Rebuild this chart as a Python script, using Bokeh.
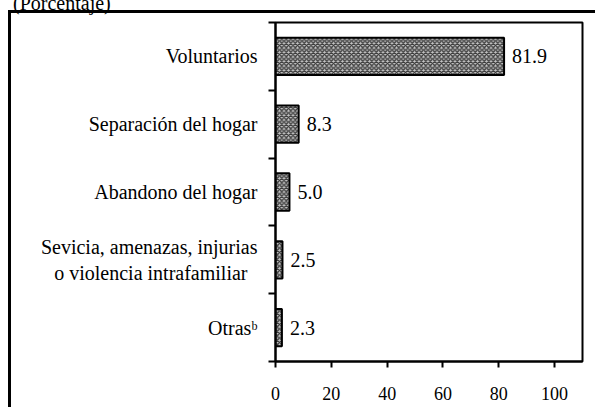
from bokeh.plotting import figure
from bokeh.models import FixedTicker, ColumnDataSource, Range1d, Div
from bokeh.layouts import column
from bokeh.core.properties import value
from bokeh.embed import file_html
from bokeh.resources import INLINE

categories = ["Voluntarios", "Separación del hogar", "Abandono del hogar",
              "Sevicia, amenazas, injurias\no violencia intrafamiliar\u00a0\u00a0", "Otras\u1d47"]
values = [81.9, 8.3, 5.0, 2.5, 2.3]
value_labels = ["81.9", "8.3", "5.0", "2.5", "2.3"]
x_ticks = [0, 20, 40, 60, 80, 100]
unit_text = "(Porcentaje)"

FONT = "Liberation Serif"
ypos = [i + 0.5 for i in range(len(categories))]
bounds = [float(i) for i in range(len(categories) + 1)]

src = ColumnDataSource(dict(y=ypos, v=values, lab=value_labels))

box_css = {
    "background-image": "linear-gradient(black, black), linear-gradient(black, black)",
    "background-size": "3px 100%, 100% 3px",
    "background-position": "8px 10px, 8px 10px",
    "background-repeat": "no-repeat",
}

p = figure(width=595, height=407, x_range=Range1d(0, 110),
           y_range=Range1d(len(categories), 0),
           output_backend="svg", toolbar_location=None,
           min_border_left=275, min_border_right=13,
           min_border_top=22, min_border_bottom=46,
           background_fill_color="white", border_fill_color=None,
           styles=box_css)

p.hbar(y="y", left=0, right="v", height=0.55, source=src,
       fill_color="#c4c4c4", hatch_pattern="diagonal_cross", hatch_color="#3a3a3a",
       hatch_scale=4.5, hatch_weight=1.4,
       line_color="black", line_width=2)

p.text(x="v", y="y", text="lab", source=src, x_offset=8,
       text_baseline="middle", text_align="left",
       text_font=value(FONT), text_font_size="20px", text_color="black")

p.xgrid.visible = False
p.ygrid.visible = False
p.outline_line_color = "black"
p.outline_line_width = 2

xa = p.xaxis[0]
xa.ticker = FixedTicker(ticks=x_ticks)
xa.axis_line_width = 2
xa.major_tick_line_width = 2
xa.major_tick_out = 6
xa.major_tick_in = 0
xa.minor_tick_line_color = None
xa.major_label_text_font = FONT
xa.major_label_text_font_size = "18px"
xa.major_label_text_color = "black"
xa.major_label_standoff = 19

ya = p.yaxis[0]
ya.ticker = FixedTicker(ticks=ypos, minor_ticks=bounds)
ya.axis_line_width = 2
ya.major_tick_line_color = None
ya.major_tick_out = 0
ya.major_tick_in = 0
ya.minor_tick_line_width = 2
ya.minor_tick_out = 7
ya.minor_tick_in = 0
ya.major_label_overrides = {y: c for y, c in zip(ypos, categories)}
ya.major_label_text_font = FONT
ya.major_label_text_font_size = "20px"
ya.major_label_text_color = "black"
ya.major_label_standoff = 11

# unit note, mostly cut off at the top edge as in the reference
div = Div(text=unit_text, width=200, height=8,
          styles={"font-family": "'Liberation Serif', serif", "font-size": "20px",
                  "line-height": "20px", "color": "black", "white-space": "nowrap",
                  "overflow": "visible", "transform": "translate(8px, -419px)"})

layout = column(p, div, spacing=0)
open("out.html", "w").write(file_html(layout, INLINE))
